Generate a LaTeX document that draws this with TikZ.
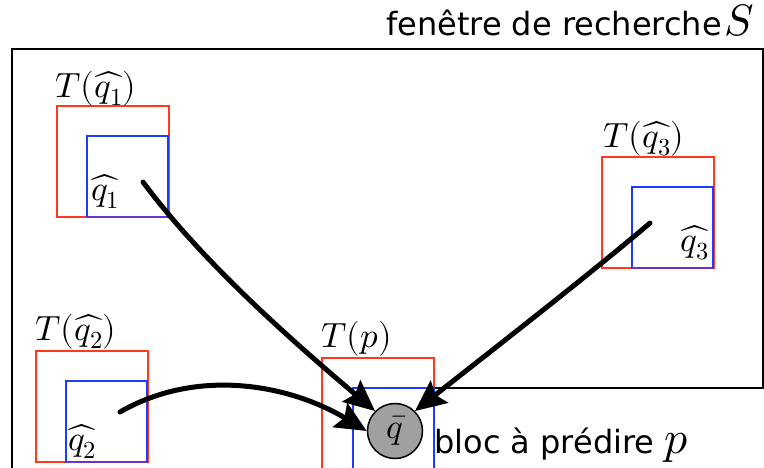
\documentclass[tikz,border=0pt]{standalone}
\usepackage{fontspec}
\usepackage{unicode-math}
\setmathfont{Latin Modern Math}
\newfontfamily\dv{DejaVu Sans}
\usetikzlibrary{arrows.meta}
\definecolor{boxred}{RGB}{255,58,26}
\definecolor{boxblue}{RGB}{30,60,255}
\definecolor{boxmix}{RGB}{110,50,200}
\definecolor{qgray}{RGB}{160,160,160}
\begin{document}
\begin{tikzpicture}[x=1pt,y=-1pt,
  redbox/.style={draw=boxred, line width=2pt, inner sep=0pt, outer sep=0pt, anchor=north west, minimum width=112pt, minimum height=111pt},
  bluebox/.style={draw=boxblue, line width=2pt, inner sep=0pt, outer sep=0pt, anchor=north west, minimum width=81pt, minimum height=81pt},
  lab/.style={inner sep=0pt, anchor=base west, font=\fontsize{35}{40}\selectfont},
  sans/.style={inner sep=0pt, anchor=base west, font=\dv\fontsize{32}{38}\selectfont},
  conn/.style={line width=5pt, line cap=round, -{Stealth[length=31pt,width=28pt,inset=5pt]}},
]
\useasboundingbox (0,0) rectangle (764,467);
\clip (0,0) rectangle (764,467);
% search window
\draw[line width=2pt] (12,472) -- (12,49) -- (763,49) -- (763,388) -- (434,388);
\node[sans] (title) at (386,35) {fenêtre de recherche\hspace{3pt}{\fontsize{44}{50}\selectfont$S$}};
% box q1
\node[redbox] (R1) at (57,106) {};
\node[bluebox] (B1) at (87,136) {};
\draw[boxmix, line width=2pt] (B1.south west) -- (B1.south east);
\node[lab] (L1) at (55,97) {$T(\widehat{q_1})$};
\node[lab] (q1) at (91,200) {$\widehat{q_1}$};
% box q3
\node[redbox] (R3) at (602,157) {};
\node[bluebox] (B3) at (632,187) {};
\draw[boxmix, line width=2pt] (B3.south west) -- (B3.south east);
\node[lab] (L3) at (603,147) {$T(\widehat{q_3})$};
\node[lab, anchor=base east] (q3) at (709,251) {$\widehat{q_3}$};
% box q2
\node[redbox] (R2) at (36,351) {};
\node[bluebox] (B2) at (66,381) {};
\draw[boxmix, line width=2pt] (B2.south west) -- (B2.south east);
\node[lab] (L2) at (35,340) {$T(\widehat{q_2})$};
\node[lab] (q2) at (68,450) {$\widehat{q_2}$};
% box p
\node[redbox] (Rp) at (322,358) {};
\node[bluebox] (Bp) at (353,388) {};
\node[lab] (Lp) at (321,347) {$T(p)$};
% predicted block
\node[circle, draw, line width=1.5pt, fill=qgray, minimum size=55pt, inner sep=0pt,
      font=\fontsize{35}{40}\selectfont] (q) at (395,431) {$\bar q$};
\node[sans] (bloc) at (434,453) {bloc à prédire {\fontsize{46}{50}\selectfont$p$}};
% connectors
\coordinate (s1) at (143,182);
\coordinate (s2) at (120,412);
\coordinate (s3) at (650,223);
\draw[conn] (s1) .. controls (198,256) and (278,329) .. (q.135);
\draw[conn] (s2) .. controls (198,367) and (290,385) .. (q.180);
\draw[conn] (s3) .. controls (589,275) and (477,362) .. (q.45);
\end{tikzpicture}
\end{document}
